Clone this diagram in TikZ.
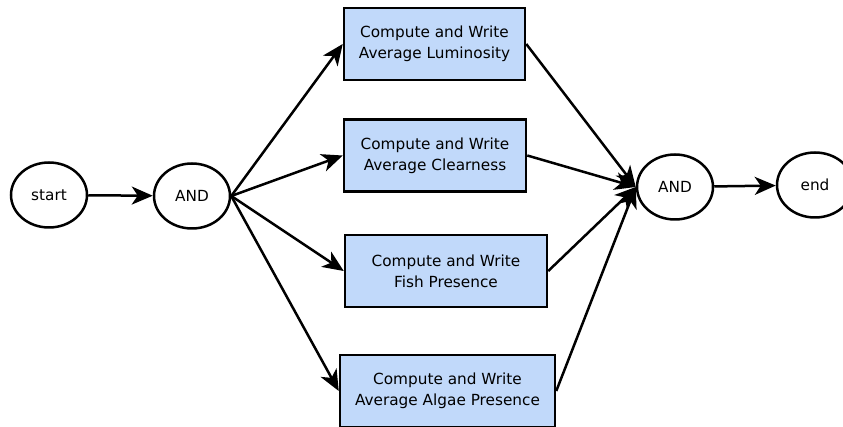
\documentclass[tikz,border=0pt]{standalone}
\usepackage{fontspec}
\setmainfont{DejaVu Sans}
\usepackage{tikz}
\usetikzlibrary{shapes, arrows.meta}
\definecolor{taskblue}{RGB}{193,217,250}

\begin{document}
\begin{tikzpicture}[x=1pt, y=-1pt,
		>={Stealth[length=21pt, width=18pt, inset=6pt]},   %Voreinstellung für Pfeilspitzen
		font=\fontsize{15.3}{21}\selectfont, line width=2.5pt,
		gate/.style={draw, ellipse, minimum width=76pt, minimum height=65pt, inner sep=0pt},
		task/.style={draw, fill=taskblue, minimum height=72pt, align=center, inner sep=0pt}]
	%Bildbereich festlegen
	\useasboundingbox (0,0) rectangle (843,427);
	%Knoten zeichnen
	\node[gate] (start) at (49,195) {start};
	\node[gate] (and1) at (192,196) {AND};
	\node[task, minimum width=181pt] (lum) at (434.5,44) {Compute and Write\\Average Luminosity};
	\node[task, minimum width=182pt] (clear) at (435,155.5) {Compute and Write\\Average Clearness};
	\node[task, minimum width=202pt] (fish) at (446,271) {Compute and Write\\Fish Presence};
	\node[task, minimum width=215pt] (algae) at (447.5,391) {Compute and Write\\Average Algae Presence};
	\node[gate] (and2) at (675,187) {AND};
	\node[gate] (end) at (815,185) {end};
	%Pfeile zeichnen
	\draw[->] (start) -- (and1);
	\foreach \t in {lum, clear, fish, algae} \draw[->] (and1.east) -- (\t.west);
	\foreach \t in {lum, clear, fish, algae} \draw[->] (\t.east) -- (and2.west);
	\draw[->] (and2) -- (end);
\end{tikzpicture}
\end{document}
